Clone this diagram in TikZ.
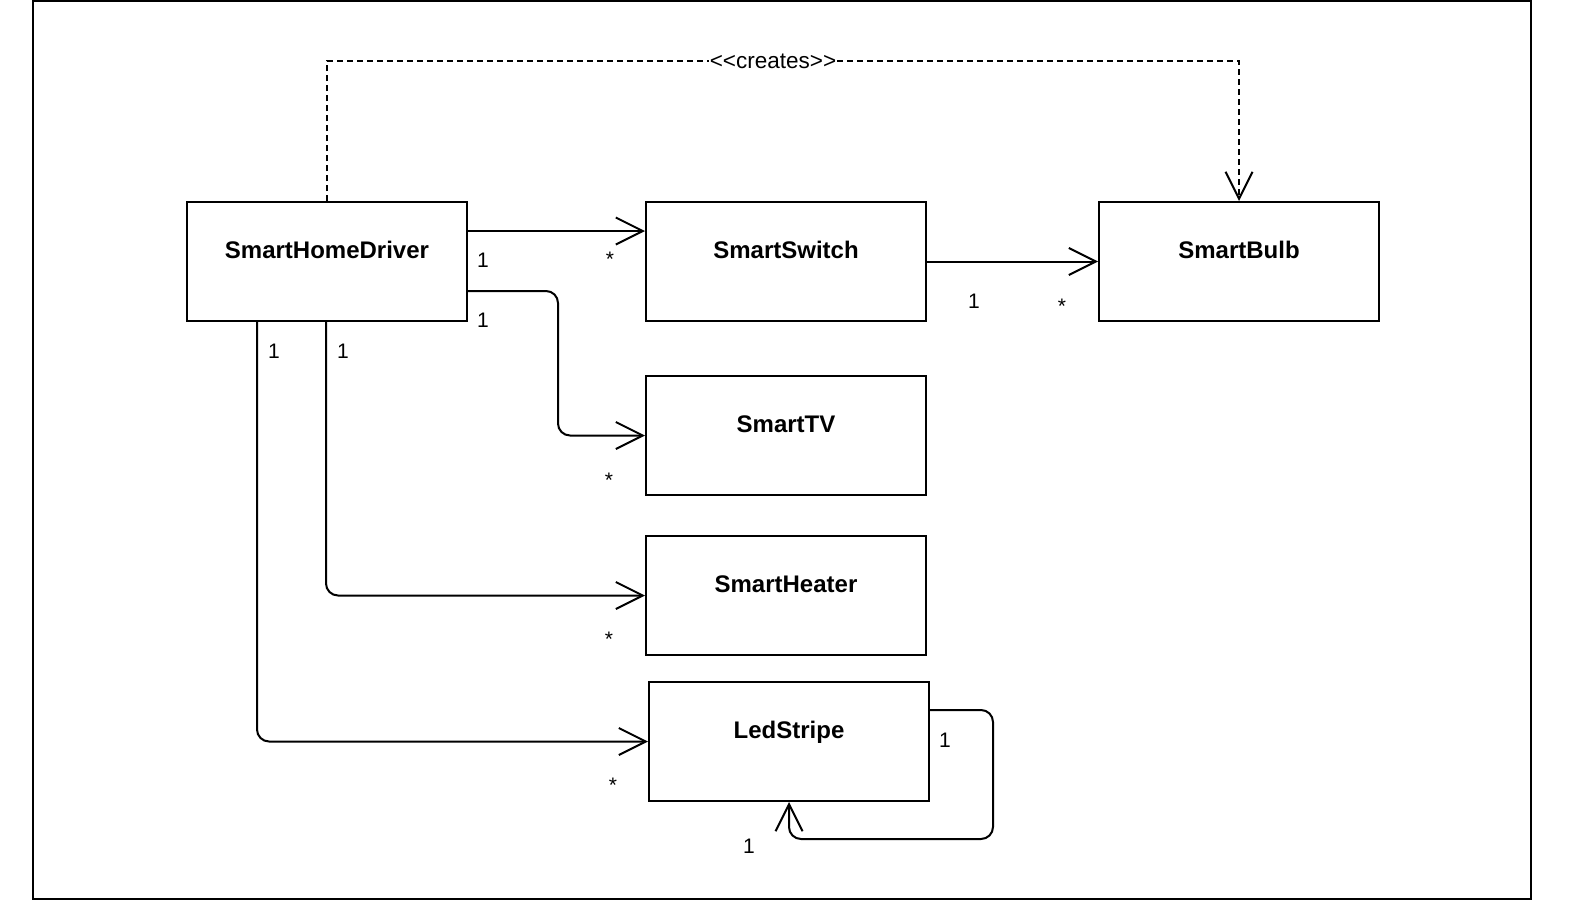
\documentclass[tikz,border=0pt]{standalone}
\usepackage{fontspec}
\setmainfont{Liberation Sans}
\usetikzlibrary{arrows.meta,calc}
\begin{document}
\begin{tikzpicture}[x=1pt,y=-1pt,
  classbox/.style={draw,line width=2pt,minimum width=280pt,minimum height=119pt,anchor=north west,inner sep=0pt},
  title/.style={font=\fontsize{24}{28}\selectfont\bfseries,anchor=base,inner sep=0pt},
  mult/.style={font=\fontsize{21}{25}\selectfont,anchor=base,inner sep=0pt},
  assoc/.style={line width=2pt,-{Straight Barb[length=27pt,width=27pt,line width=2pt]},rounded corners=12pt},
  dep/.style={line width=2pt,dash pattern=on 6pt off 4pt,-{Straight Barb[length=27pt,width=27pt,line width=2pt]}}
]
\useasboundingbox (0,0) rectangle (1570,911);
\draw[line width=2.2pt] (33,1) rectangle (1531,899);

\node[classbox] (drv) at (186,201) {};
\node[classbox] (sw) at (645,201) {};
\node[classbox] (bulb) at (1098,201) {};
\node[classbox] (tv) at (645,375) {};
\node[classbox] (heat) at (645,535) {};
\node[classbox] (led) at (648,681) {};

\node[title] (drvT) at ($(drv.north)+(0,57)$) {SmartHomeDriver};
\node[title] (swT) at ($(sw.north)+(0,57)$) {SmartSwitch};
\node[title] (bulbT) at ($(bulb.north)+(0,57)$) {SmartBulb};
\node[title] (tvT) at ($(tv.north)+(0,57)$) {SmartTV};
\node[title] (heatT) at ($(heat.north)+(0,57)$) {SmartHeater};
\node[title] (ledT) at ($(led.north)+(0,57)$) {LedStripe};

% associations
\draw[assoc] ([yshift=-30pt]drv.north east) -- ([yshift=-30pt]sw.north west);
\draw[assoc] ([yshift=-90pt]drv.north east) -- ++(90,0) |- (tv.west);
\draw[assoc] ([xshift=140pt]drv.south west) |- (heat.west);
\draw[assoc] ([xshift=71pt]drv.south west) |- (led.west);
\draw[assoc] (sw.east) -- (bulb.west);
\draw[assoc] ([yshift=-29pt]led.north east) -- ++(63,0) -- ++(0,129) -| (led.south);

% dependency
\draw[dep] (drv.north) -- ++(0,-140) -| (bulb.north);
\node[font=\fontsize{22.5}{26}\selectfont,fill=white,inner sep=1pt] (creates) at (773,61) {<\kern0pt<creates>\kern0pt>};

% multiplicities
\node[mult] (m1a) at (483,267) {1};
\node[mult] (m1b) at (610,266) {*};
\node[mult] (m2a) at (483,327) {1};
\node[mult] (m2b) at (609,487) {*};
\node[mult] (m3a) at (343,358) {1};
\node[mult] (m3b) at (609,646) {*};
\node[mult] (m4a) at (274,358) {1};
\node[mult] (m4b) at (613,792) {*};
\node[mult] (m5a) at (974,308) {1};
\node[mult] (m5b) at (1062,313) {*};
\node[mult] (m6a) at (945,747) {1};
\node[mult] (m6b) at (749,853) {1};
\end{tikzpicture}
\end{document}
